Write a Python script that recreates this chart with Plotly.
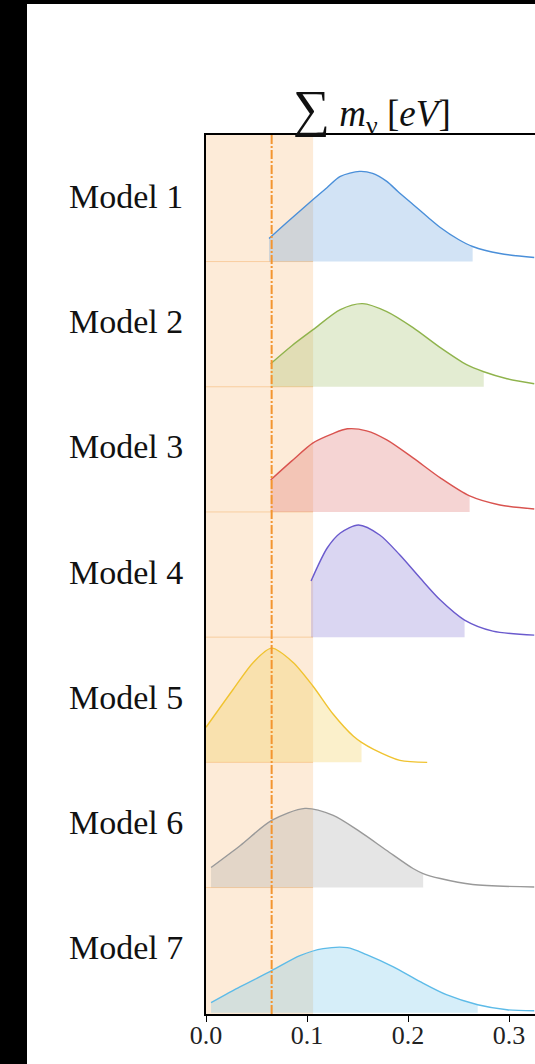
import plotly.graph_objects as go

# ---------------- data ----------------
models = ["Model 1", "Model 2", "Model 3", "Model 4", "Model 5", "Model 6", "Model 7"]
colors = ["#4a8fd9", "#8fb34c", "#d9534f", "#6a5acd", "#f0c330", "#999999", "#5dbbe8"]

m1_x = [0.0624, 0.08, 0.106, 0.12, 0.133, 0.152, 0.165, 0.179, 0.19, 0.205, 0.22, 0.232, 0.25, 0.264, 0.291, 0.325]
m1_y = [0.184, 0.312, 0.496, 0.592, 0.68, 0.72, 0.704, 0.64, 0.56, 0.456, 0.352, 0.272, 0.176, 0.12, 0.064, 0.032]

m2_x = [0.064, 0.085, 0.106, 0.133, 0.155, 0.179, 0.205, 0.232, 0.258, 0.275, 0.298, 0.325]
m2_y = [0.184, 0.328, 0.456, 0.616, 0.664, 0.6, 0.472, 0.312, 0.176, 0.12, 0.064, 0.024]

m3_x = [0.064, 0.085, 0.106, 0.125, 0.14, 0.159, 0.179, 0.205, 0.232, 0.261, 0.291, 0.325]
m3_y = [0.256, 0.408, 0.552, 0.624, 0.664, 0.648, 0.576, 0.432, 0.272, 0.128, 0.056, 0.024]

m4_x = [0.104, 0.12, 0.133, 0.151, 0.172, 0.192, 0.212, 0.232, 0.256, 0.284, 0.325]
m4_y = [0.448, 0.712, 0.832, 0.896, 0.816, 0.656, 0.472, 0.296, 0.136, 0.048, 0.016]

m5_x = [0.0, 0.027, 0.047, 0.065, 0.086, 0.106, 0.126, 0.146, 0.154, 0.166, 0.192, 0.219]
m5_y = [0.28, 0.584, 0.8, 0.912, 0.8, 0.608, 0.384, 0.208, 0.16, 0.104, 0.016, 0.0]

m6_x = [0.005, 0.034, 0.065, 0.098, 0.126, 0.152, 0.179, 0.205, 0.215, 0.232, 0.264, 0.325]
m6_y = [0.16, 0.336, 0.536, 0.632, 0.576, 0.448, 0.296, 0.152, 0.112, 0.072, 0.024, 0.004]

m7_x = [0.005, 0.034, 0.065, 0.093, 0.116, 0.14, 0.159, 0.185, 0.212, 0.238, 0.269, 0.298, 0.325]
m7_y = [0.08, 0.208, 0.336, 0.456, 0.512, 0.52, 0.464, 0.368, 0.248, 0.144, 0.064, 0.024, 0.016]

fill_end = [0.264, 0.275, 0.261, 0.256, 0.154, 0.215, 0.269]   # upper edge of shaded interval

band_x = [0.0, 0.106]        # shaded orange band
vline_x = 0.065              # orange dash-dot line
tick_vals = [0.0, 0.1, 0.2, 0.3]
tick_text = ["0.0", "0.1", "0.2", "0.3"]

curves_x = [m1_x, m2_x, m3_x, m4_x, m5_x, m6_x, m7_x]
curves_y = [m1_y, m2_y, m3_y, m4_y, m5_y, m6_y, m7_y]


def rgba(hex_c, a):
    h = hex_c.lstrip("#")
    r, g, b = int(h[0:2], 16), int(h[2:4], 16), int(h[4:6], 16)
    return f"rgba({r},{g},{b},{a})"


# ---------------- figure ----------------
W, H = 535, 1064
ML, MT, MB, MR = 206, 135, 50, 0
PW, PH = W - ML - MR, H - MT - MB
X_MAX = (W - ML) / 1010.0
N = len(models)
Y_TOP = PH / 125.2

fig = go.Figure()
serif = "Liberation Serif, Times New Roman, serif"

for i, name in enumerate(models):
    base = N - 1 - i
    xs, ys = curves_x[i], curves_y[i]
    fx = [x for x in xs if x <= fill_end[i] + 1e-9]
    fy = [y + base for x, y in zip(xs, ys) if x <= fill_end[i] + 1e-9]
    fig.add_trace(go.Scatter(x=fx, y=[base] * len(fx), mode="lines",
                             line=dict(width=0, color=rgba(colors[i], 0)),
                             hoverinfo="skip", showlegend=False))
    fig.add_trace(go.Scatter(x=fx, y=fy, mode="lines", fill="tonexty",
                             fillcolor=rgba(colors[i], 0.25),
                             line=dict(width=0, color=rgba(colors[i], 0), shape="spline", smoothing=0.8),
                             hoverinfo="skip", showlegend=False))
    fig.add_trace(go.Scatter(x=xs, y=[y + base for y in ys], mode="lines",
                             line=dict(width=1.4, color=colors[i], shape="spline", smoothing=0.8),
                             name=name, showlegend=False))
    fig.add_annotation(text=name, xref="paper", x=0, xanchor="right", xshift=-21,
                       yref="y", y=base + 0.52, yanchor="middle", showarrow=False,
                       font=dict(family=serif, size=34, color="#111111"))

shapes = [
    dict(type="rect", xref="x", yref="paper", x0=band_x[0], x1=band_x[1], y0=0, y1=1,
         fillcolor="rgba(247,177,100,0.25)", line=dict(width=0), layer="below"),
]
for k in range(1, N):
    shapes.append(dict(type="line", xref="x", yref="y", x0=band_x[0], x1=band_x[1], y0=k, y1=k,
                       line=dict(color="rgba(245,170,90,0.45)", width=1), layer="below"))
shapes.append(dict(type="line", xref="x", yref="paper", x0=vline_x, x1=vline_x, y0=0, y1=1,
                   line=dict(color="#f39530", width=2, dash="9px,2px,2px,2px"), layer="above"))
# black frame of the screenshot (left strip and top strip)
shapes.append(dict(type="rect", xref="paper", yref="paper",
                   x0=-1.0, x1=(27 - ML) / PW, y0=-0.2, y1=1.3,
                   fillcolor="black", line=dict(width=0), layer="above"))
shapes.append(dict(type="rect", xref="paper", yref="paper",
                   x0=-1.0, x1=1.2, y0=(H - MB - 4) / PH, y1=1.3,
                   fillcolor="black", line=dict(width=0), layer="above"))

fig.update_layout(
    width=W, height=H,
    margin=dict(l=ML, r=MR, t=MT, b=MB, pad=0),
    paper_bgcolor="white", plot_bgcolor="white",
    shapes=shapes,
    xaxis=dict(range=[0, X_MAX], showgrid=False, zeroline=False,
               showline=True, linecolor="black", linewidth=1.5, mirror=True,
               ticks="outside", ticklen=6, tickwidth=1.3, tickcolor="black",
               tickvals=tick_vals, ticktext=tick_text, ticklabelstandoff=-9,
               tickfont=dict(family=serif, size=26, color="#222222")),
    yaxis=dict(range=[-0.01, Y_TOP - 0.01], showgrid=False, zeroline=False,
               showline=True, linecolor="black", linewidth=1.5,
               showticklabels=False, ticks=""),
)

fig.add_annotation(
    text="<span style='font-size:52px'>∑</span> <i>m</i><sub>ν</sub> [<i>eV</i>]",
    xref="paper", x=(291 - ML) / PW, xanchor="left",
    yref="paper", y=(H - MB - 142) / PH, yanchor="bottom",
    showarrow=False, font=dict(family=serif, size=37, color="#111111"))

fig.write_html(
    "out.html",
    config={"displayModeBar": False},
    post_script="document.body.style.margin='0';document.body.style.padding='0';"
                "document.body.style.overflow='hidden';document.body.style.background='black';",
)
